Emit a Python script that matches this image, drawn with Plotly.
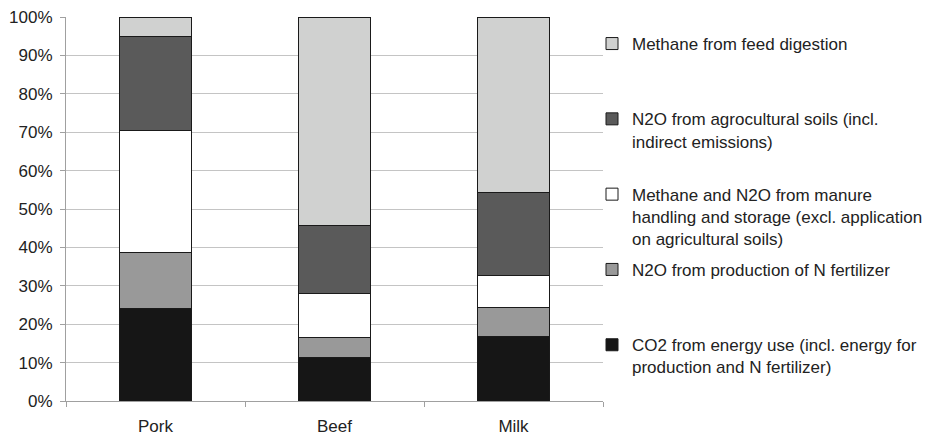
import plotly.graph_objects as go

categories = ["Pork", "Beef", "Milk"]

series_names = [
    "CO2 from energy use (incl. energy for<br>production and N fertilizer)",
    "N2O from production of N fertilizer",
    "Methane and N2O from manure<br>handling and storage (excl. application<br>on agricultural soils)",
    "N2O from agrocultural soils (incl.<br>indirect emissions)",
    "Methane from feed digestion",
]
co2_energy = [24.0, 11.3, 16.9]
n2o_fertilizer = [14.7, 5.3, 7.5]
manure = [31.7, 11.5, 8.2]
n2o_soils = [24.6, 17.5, 21.8]
methane_feed = [5.0, 54.4, 45.6]
series_values = [co2_energy, n2o_fertilizer, manure, n2o_soils, methane_feed]
series_colors = ["#161616", "#999999", "#ffffff", "#5a5a5a", "#d0d1d0"]

tick_vals = [0, 10, 20, 30, 40, 50, 60, 70, 80, 90, 100]
tick_text = [f"{v}%" for v in tick_vals]

FONT = "Liberation Sans, Arial, Helvetica, sans-serif"
W, H = 936, 436

fig = go.Figure()
n = len(series_names)
for i, (name, vals, col) in enumerate(zip(series_names, series_values, series_colors)):
    nlines = name.count("<br>") + 1
    label = name + "<br>&nbsp;" * (3 - nlines)
    fig.add_trace(go.Bar(
        x=categories, y=vals, name=label,
        marker=dict(color=col, line=dict(color="#1a1a1a", width=1)),
        width=0.4, legendgroup=f"g{i}", legendrank=n - i,
        hoverinfo="x+y",
    ))

fig.update_layout(
    width=W, height=H,
    barmode="stack",
    paper_bgcolor="white", plot_bgcolor="white",
    margin=dict(l=66, r=333, t=17, b=35, autoexpand=False),
    font=dict(family=FONT, size=17, color="#222222"),
    showlegend=True,
    legend=dict(
        traceorder="grouped",
        tracegroupgap=6,
        valign="top",
        maxheight=430,
        x=592 / W, xref="container", xanchor="left",
        y=1 - 26 / H, yref="container", yanchor="top",
        font=dict(family=FONT, size=17, color="#222222"),
        bgcolor="rgba(0,0,0,0)",
    ),
    xaxis=dict(
        showgrid=False, automargin=False,
        showline=True, linecolor="#a0a0a0", linewidth=1,
        ticks="outside", tickson="boundaries", ticklen=5, tickcolor="#a0a0a0",
        tickfont=dict(size=17),
        ticklabelstandoff=10,
    ),
    yaxis=dict(
        range=[0, 100], automargin=False,
        tickvals=tick_vals, ticktext=tick_text,
        showgrid=True, gridcolor="#c4c4c4", gridwidth=1,
        showline=True, linecolor="#a0a0a0", linewidth=1,
        ticks="outside", ticklen=5, tickcolor="#a0a0a0",
        tickfont=dict(size=17),
        ticklabelstandoff=4,
        zeroline=False,
    ),
)

fig.write_html("out.html")
